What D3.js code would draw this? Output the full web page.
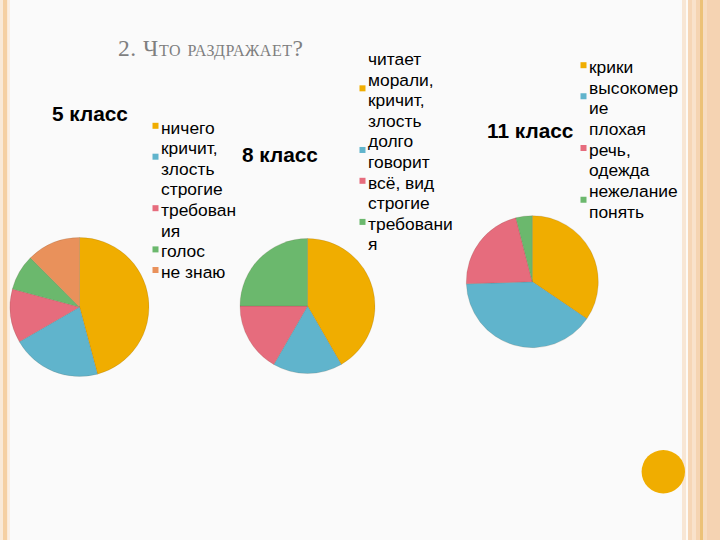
<!DOCTYPE html>
<html><head><meta charset="utf-8">
<script src="https://cdn.jsdelivr.net/npm/d3@7"></script>
<style>
html,body{margin:0;padding:0;background:#fafafa;}
svg{display:block;}
</style></head>
<body>
<svg id="c" width="720" height="540"></svg>
<script>
// ---- data ----
const slideTitle = "2. Что раздражает?";

const chartTitles = ["5 класс", "8 класс", "11 класс"];

const categories5 = ["ничего", "кричит, злость", "строгие требования", "голос", "не знаю"];
const values5 = [11, 5, 3, 2, 3];
const legendLines5 = [["ничего"], ["кричит,", "злость"], ["строгие", "требован", "ия"], ["голос"], ["не знаю"]];

const categories8 = ["читает морали, кричит, злость", "долго говорит", "всё, вид", "строгие требования"];
const values8 = [5, 2, 2, 3];
const legendLines8 = [["читает", "морали,", "кричит,", "злость"], ["долго", "говорит"], ["всё, вид"], ["строгие", "требовани", "я"]];

const categories11 = ["крики", "высокомерие", "плохая речь, одежда", "нежелание понять"];
const values11 = [34.5, 40, 21.5, 4];
const legendLines11 = [["крики"], ["высокомер", "ие"], ["плохая", "речь,", "одежда"], ["нежелание", "понять"]];

// ---- styling / layout ----
const palette = ["#F0AD00", "#60B4CC", "#E66C7D", "#6BB86D", "#E9915B"];

const charts = [
  {title: chartTitles[0], cats: categories5, vals: values5, lines: legendLines5,
   cx: 79.5, cy: 307, r: 69.5, tx: 52, ty: 121, lx: 161, ly: 127.3, lh: 20.6},
  {title: chartTitles[1], cats: categories8, vals: values8, lines: legendLines8,
   cx: 307.5, cy: 306, r: 67.5, tx: 242, ty: 162, lx: 368, ly: 59, lh: 20.55},
  {title: chartTitles[2], cats: categories11, vals: values11, lines: legendLines11,
   cx: 532.3, cy: 281.7, r: 66, tx: 487, ty: 138, lx: 589, ly: 66.7, lh: 20.7}
];

const svg = d3.select("#c");

// background & slide decoration
svg.append("rect").attr("width", 720).attr("height", 540).attr("fill", "#fafafa");
// left border
svg.append("rect").attr("x", 0).attr("y", 0).attr("width", 3).attr("height", 540).attr("fill", "#f9e9d8");
svg.append("rect").attr("x", 3).attr("y", 0).attr("width", 4.5).attr("height", 540).attr("fill", "#f5cfa2");
svg.append("rect").attr("x", 7.5).attr("y", 0).attr("width", 2.5).attr("height", 540).attr("fill", "#fbeee2");
// right border stripes
const rightStripes = [
  [682, 4, "#f8e6d4"], [686, 2, "#fdfaf6"], [688, 4, "#f6d6b6"], [692, 4, "#f9e2cb"],
  [696, 4, "#f5d4b2"], [700, 3, "#ecc277"], [703, 4, "#f7dcc0"], [707, 13, "#f5d3b2"]
];
rightStripes.forEach(s => svg.append("rect").attr("x", s[0]).attr("y", 0).attr("width", s[1]).attr("height", 540).attr("fill", s[2]));
// decorative circle
svg.append("circle").attr("cx", 663.3).attr("cy", 471.7).attr("r", 21.7).attr("fill", "#F0AD00");

// slide title
svg.append("text").attr("x", 118).attr("y", 56)
  .attr("font-family", "'Liberation Serif', 'DejaVu Serif', serif")
  .attr("font-size", 23.5).style("font-variant", "small-caps")
  .attr("textLength", 185).attr("lengthAdjust", "spacing")
  .attr("fill", "#7f7f7f").text(slideTitle);

const pie = d3.pie().sort(null).value(d => d);

charts.forEach(ch => {
  const color = d3.scaleOrdinal().domain(ch.cats).range(palette);
  const arc = d3.arc().innerRadius(0).outerRadius(ch.r);
  const g = svg.append("g").attr("transform", `translate(${ch.cx},${ch.cy})`);
  g.selectAll("path").data(pie(ch.vals)).enter().append("path")
    .attr("d", arc)
    .attr("fill", (d, i) => color(ch.cats[i]))
    .attr("stroke", "rgba(90,70,40,0.25)").attr("stroke-width", 0.6);

  svg.append("text").attr("x", ch.tx).attr("y", ch.ty)
    .attr("font-family", "'Liberation Sans', Arial, sans-serif")
    .attr("font-size", 20.8).attr("font-weight", "bold").attr("fill", "#000")
    .text(ch.title);

  // legend
  let lineIdx = 0;
  ch.lines.forEach((lines, i) => {
    const firstY = ch.ly + lineIdx * ch.lh;
    const midY = firstY + (lines.length - 1) * ch.lh / 2;
    svg.append("rect").attr("x", ch.lx - 8.5).attr("y", midY - 4.5)
      .attr("width", 6).attr("height", 6).attr("fill", color(ch.cats[i]));
    lines.forEach((t, k) => {
      svg.append("text").attr("x", ch.lx).attr("y", firstY + k * ch.lh)
        .attr("dy", "0.36em")
        .attr("font-family", "'Liberation Sans', Arial, sans-serif")
        .attr("font-size", 17.4).attr("fill", "#000")
        .text(t);
    });
    lineIdx += lines.length;
  });
});
</script>
</body></html>
